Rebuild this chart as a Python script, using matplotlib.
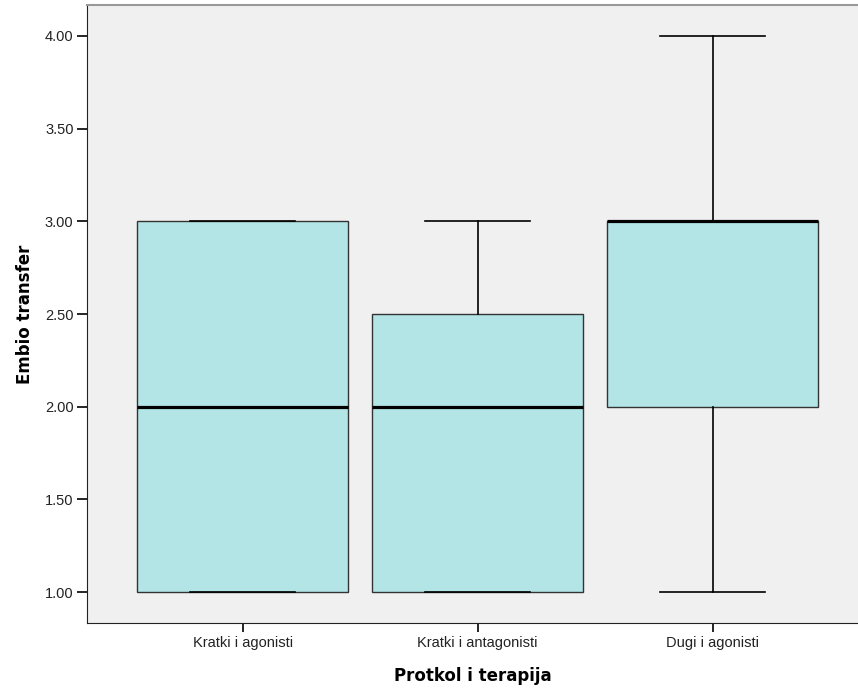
import matplotlib
matplotlib.use("Agg")
import matplotlib.pyplot as plt

# box statistics
groups = ["Kratki i agonisti", "Kratki i antagonisti", "Dugi i agonisti"]
w_low = [1.0, 1.0, 1.0]
q1 = [1.0, 1.0, 2.0]
med = [2.0, 2.0, 3.0]
q3 = [3.0, 2.5, 3.0]
w_high = [3.0, 3.0, 4.0]
yticks = [1.0, 1.5, 2.0, 2.5, 3.0, 3.5, 4.0]

stats = []
for i in range(len(groups)):
    stats.append(dict(label=groups[i], whislo=w_low[i], q1=q1[i], med=med[i],
                      q3=q3[i], whishi=w_high[i], fliers=[]))

fig = plt.figure(figsize=(8.58, 6.89), dpi=100)
ax = fig.add_axes([87/858, 1 - 623/689, 1 - 87/858, (623 - 5)/689])
ax.set_facecolor("#F0F0F0")

ax.bxp(stats, positions=[1, 2, 3], widths=0.898, patch_artist=True,
       showfliers=False,
       boxprops=dict(facecolor="#B3E5E6", edgecolor="#333333", linewidth=1.0),
       medianprops=dict(color="black", linewidth=2.3),
       whiskerprops=dict(color="black", linewidth=1.2),
       capprops=dict(color="black", linewidth=1.2),
       capwidths=0.45)

tick_font = dict(family="Liberation Sans", size=10.5)
ax.set_xlim(0.338, 3.619)
ax.set_ylim(0.833, 4.167)
ax.set_yticks(yticks)
ax.set_yticklabels(["%.2f" % v for v in yticks], color="#222222", **tick_font)
ax.set_xticks([1, 2, 3])
ax.set_xticklabels(groups, color="#222222", **tick_font)
ax.tick_params(axis="y", length=7.2, width=1.2, direction="out", pad=2.5)
ax.tick_params(axis="x", length=6.5, width=1.2, direction="out", pad=3)

ax.spines["right"].set_visible(False)
ax.spines["top"].set_color("#999999")
ax.spines["top"].set_linewidth(1.5)
ax.spines["left"].set_color("#222222")
ax.spines["bottom"].set_color("#222222")

ax.set_ylabel("Embio transfer", fontsize=12, fontweight="bold", labelpad=8)
ax.set_xlabel("Protkol i terapija", fontsize=12, fontweight="bold", labelpad=12)

fig.savefig("out.png", dpi=100)
